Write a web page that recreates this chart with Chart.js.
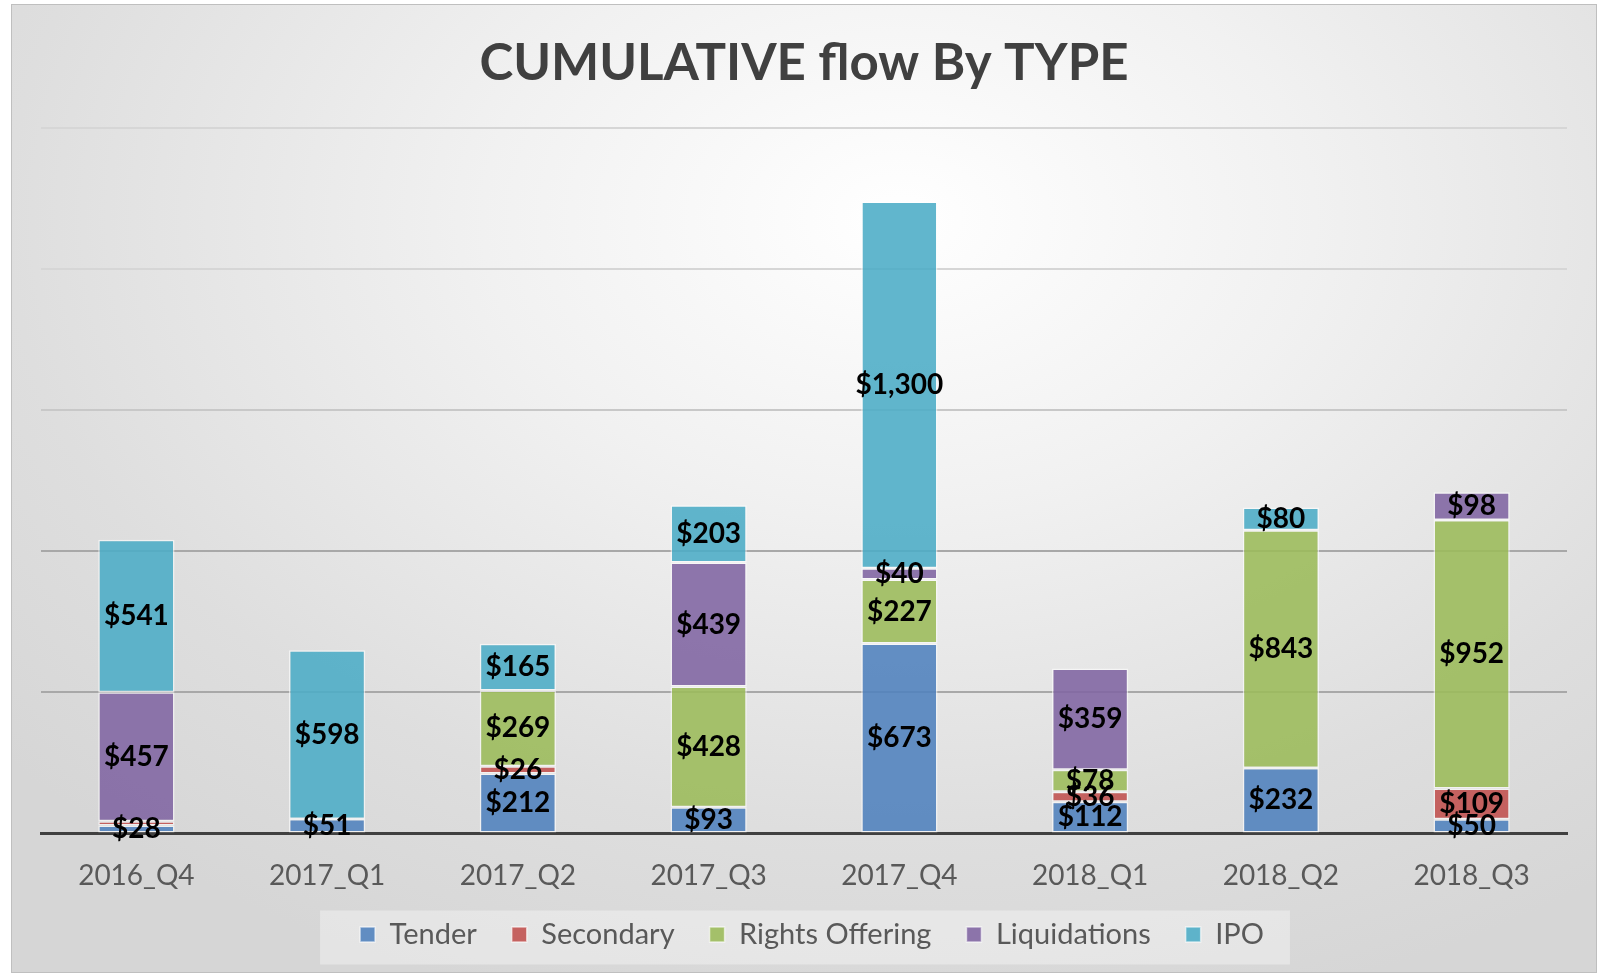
<!DOCTYPE html>
<html>
<head>
<meta charset="utf-8">
<script src="https://cdn.jsdelivr.net/npm/chart.js@4.4.1/dist/chart.umd.min.js"></script>
<style>
    html, body { margin: 0; padding: 0; background: #ffffff; }
    #wrap {
        position: absolute;
        left: 11px;
        top: 4px;
        width: 1586px;
        height: 969px;
        box-sizing: border-box;
        border: 1px solid #bfbfbf;
        background: radial-gradient(ellipse 75% 85% at 56% 22%, #ffffff 0%, #f1f1f1 35%, #dedede 75%, #d6d6d6 100%);
    }
    #flowChart { display: block; }
</style>
</head>
<body>
<div id="wrap"><canvas id="flowChart" width="1584" height="967"></canvas></div>
<script>
// chart data
const categories = ['2016_Q4', '2017_Q1', '2017_Q2', '2017_Q3', '2017_Q4', '2018_Q1', '2018_Q2', '2018_Q3'];
const tender = [28, 51, 212, 93, 673, 112, 232, 50];
const secondary = [15, null, 26, null, null, 36, null, 109];
const rightsOffering = [null, null, 269, 428, 227, 78, 843, 952];
const liquidations = [457, null, null, 439, 40, 359, null, 98];
const ipo = [541, 598, 165, 203, 1300, null, 80, null];
const yTicks = [0, 500, 1000, 1500, 2000, 2500];

const FONT = 'Lato, "Open Sans", sans-serif';

// values on the bar segments
const segmentLabels = {
    id: 'segmentLabels',
    afterDatasetsDraw(chart) {
        const ctx = chart.ctx;
        ctx.save();
        ctx.font = 'bold 28px ' + FONT;
        ctx.fillStyle = '#000000';
        ctx.textAlign = 'center';
        ctx.textBaseline = 'middle';
        chart.data.datasets.forEach((ds, i) => {
            const meta = chart.getDatasetMeta(i);
            meta.data.forEach((bar, j) => {
                const v = ds.data[j];
                if (v == null || v < 20) return;
                const y = (bar.y + bar.base) / 2;
                ctx.fillText('$' + v.toLocaleString('en-US'), bar.x, y);
            });
        });
        ctx.restore();
    }
};

// legend sits higher in its box, with a light panel behind it
const legendBox = {
    id: 'legendBox',
    afterLayout(chart) {
        const lg = chart.legend;
        if (!lg) return;
        lg.top -= 26;
        lg.bottom -= 26;
        lg.left += 8;
        lg.right += 8;
    },
    beforeDraw(chart) {
        const lg = chart.legend;
        if (!lg || !lg.legendHitBoxes.length) return;
        const boxes = lg.legendHitBoxes;
        const first = boxes[0];
        const last = boxes[boxes.length - 1];
        const x0 = first.left - 40;
        const x1 = last.left + last.width + 26;
        const cy = first.top + first.height / 2;
        const ctx = chart.ctx;
        ctx.save();
        ctx.fillStyle = 'rgba(255,255,255,0.35)';
        ctx.fillRect(x0, cy - 24, x1 - x0, 54);
        ctx.restore();
    }
};

function createFlowChart() {
    const ctx = document.getElementById('flowChart').getContext('2d');

    new Chart(ctx, {
        type: 'bar',
        data: {
            labels: categories,
            datasets: [{
                label: 'Tender',
                data: tender,
                backgroundColor: 'rgba(79, 129, 189, 0.88)'
            },
            {
                label: 'Secondary',
                data: secondary,
                backgroundColor: 'rgba(192, 80, 77, 0.88)'
            },
            {
                label: 'Rights Offering',
                data: rightsOffering,
                backgroundColor: 'rgba(155, 187, 89, 0.88)'
            },
            {
                label: 'Liquidations',
                data: liquidations,
                backgroundColor: 'rgba(128, 100, 162, 0.88)'
            },
            {
                label: 'IPO',
                data: ipo,
                backgroundColor: 'rgba(75, 172, 198, 0.88)'
            }]
        },
        options: {
            responsive: false,
            animation: false,
            datasets: {
                bar: {
                    barPercentage: 0.4,
                    categoryPercentage: 1,
                    borderColor: 'rgba(255,255,255,0.6)',
                    borderWidth: 1.5,
                    borderSkipped: false
                }
            },
            layout: {
                padding: { left: 29, right: 29, top: 0, bottom: -13 }
            },
            plugins: {
                title: {
                    display: true,
                    text: 'CUMULATIVE flow By TYPE',
                    color: '#404040',
                    font: { family: FONT, size: 51, weight: 'bold' },
                    padding: { top: 28, bottom: 34 }
                },
                legend: {
                    display: true,
                    position: 'bottom',
                    labels: {
                        color: '#595959',
                        font: { family: FONT, size: 29 },
                        boxWidth: 15,
                        boxHeight: 15,
                        padding: 35
                    }
                },
                tooltip: { enabled: false }
            },
            scales: {
                x: {
                    stacked: true,
                    grid: { display: false },
                    border: { display: true, color: '#404040', width: 3 },
                    ticks: {
                        color: '#595959',
                        font: { family: FONT, size: 28 },
                        padding: 18
                    }
                },
                y: {
                    stacked: true,
                    min: yTicks[0],
                    max: yTicks[yTicks.length - 1],
                    afterBuildTicks(axis) {
                        axis.ticks = yTicks.map(v => ({ value: v }));
                    },
                    border: { display: false },
                    grid: {
                        drawTicks: false,
                        lineWidth: 2,
                        color(c) {
                            const v = c.tick ? c.tick.value : 0;
                            if (v >= 2000) return '#d6d6d6';
                            if (v >= 1500) return '#c8c8c8';
                            return '#a8a8a8';
                        }
                    },
                    ticks: { display: false }
                }
            }
        },
        plugins: [legendBox, segmentLabels]
    });
}

createFlowChart();
</script>
</body>
</html>
